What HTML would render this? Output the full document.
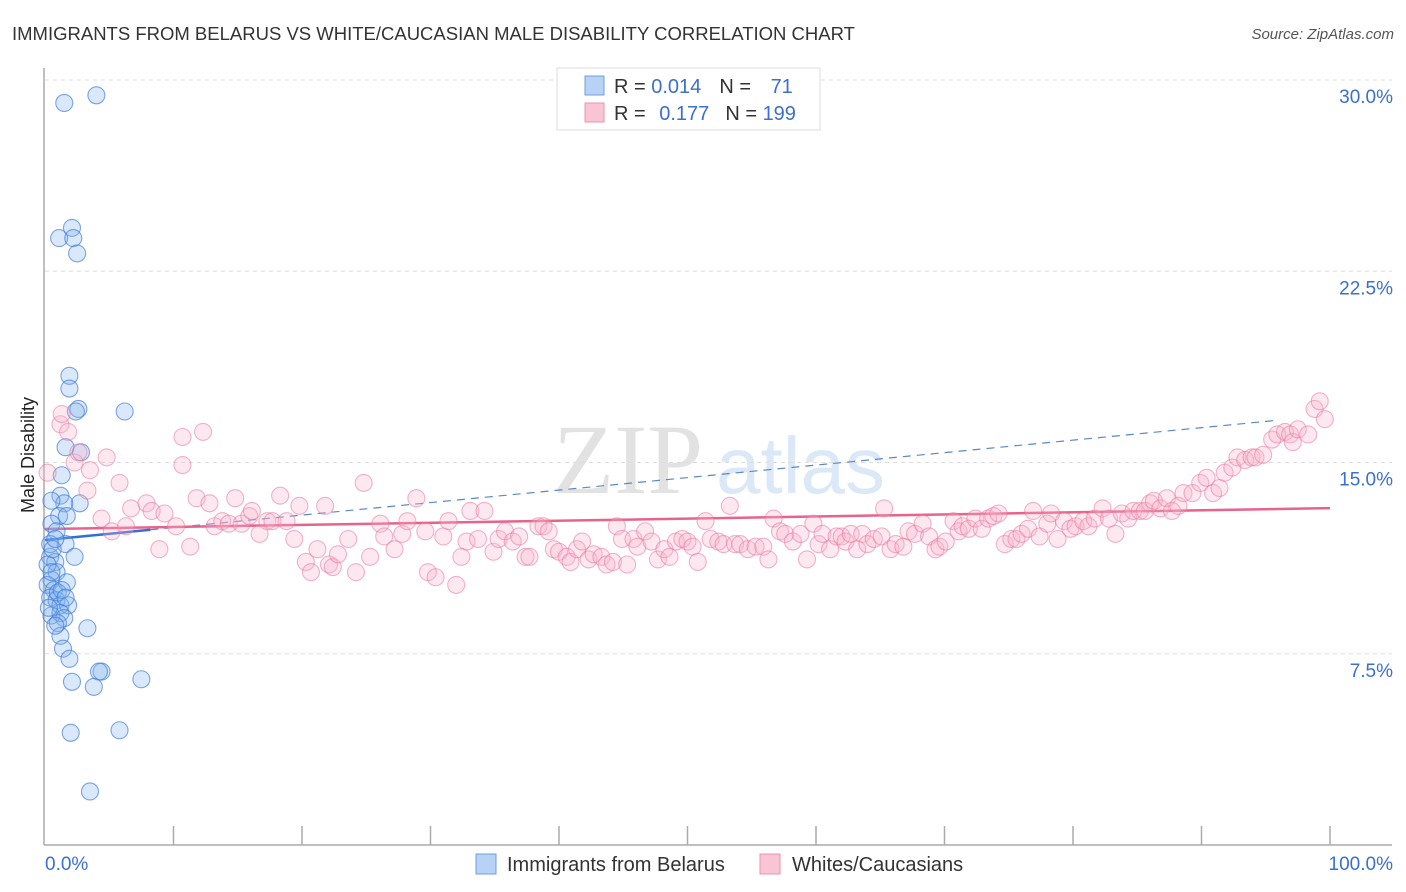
<!DOCTYPE html>
<html><head><meta charset="utf-8"><style>
body{margin:0;background:#fff;font-family:"Liberation Sans",sans-serif;}
svg{display:block}
</style></head><body>
<svg id="chart" width="1406" height="892">
<text x="12" y="40" font-size="18.5" fill="#333">IMMIGRANTS FROM BELARUS VS WHITE/CAUCASIAN MALE DISABILITY CORRELATION CHART</text>
<text x="1394" y="39" font-size="15" fill="#555" font-style="italic" text-anchor="end">Source: ZipAtlas.com</text>
<g>
<text x="553" y="493" font-family="Liberation Serif,serif" font-size="100" fill="#e2e2e2">ZIP</text>
<text x="716" y="493" font-size="80" fill="#dbe8f7">atlas</text>
</g>
<g id="grid"></g>
<g id="axes"></g>
<g id="trends"></g>
<g id="points"></g>
<text transform="translate(34,455) rotate(-90)" font-size="18" fill="#222" text-anchor="middle">Male Disability</text>
<g>
<rect x="557" y="68" width="263" height="62" fill="#fff" stroke="#ddd"/>
<rect x="585" y="76" width="19" height="19" fill="#b7d2f5" stroke="#6f9de0"/>
<rect x="585" y="103" width="19" height="19" fill="#f9c4d3" stroke="#ec93ad"/>
<text x="614" y="93" font-size="20" fill="#333">R = <tspan fill="#3b6fd0">0.014</tspan><tspan dx="18">N = </tspan><tspan dx="14" fill="#3b6fd0">71</tspan></text>
<text x="614" y="120" font-size="20" fill="#333">R = <tspan dx="8" fill="#3b6fd0">0.177</tspan><tspan dx="16">N = </tspan><tspan fill="#3b6fd0">199</tspan></text>
</g>
<g>
<rect x="476" y="854" width="20" height="20" fill="#b7d2f5" stroke="#6f9de0"/>
<text x="507" y="871" font-size="20" fill="#333">Immigrants from Belarus</text>
<rect x="760" y="854" width="20" height="20" fill="#f9c4d3" stroke="#ec93ad"/>
<text x="792" y="871" font-size="20" fill="#333">Whites/Caucasians</text>
</g>
</svg>
<script>
const yTicks=[7.5,15,22.5,30];
const yTickLabels=["7.5%","15.0%","22.5%","30.0%"];
const xTicks=[0,10,20,30,40,50,60,70,80,90,100];
const blueX=[1.5,4.0,1.1,2.1,2.2,2.5,1.9,1.9,2.6,2.4,6.2,1.6,2.8,1.3,1.2,2.7,1.5,0.5,1.1,1.7,0.5,0.9,1.6,2.3,0.4,0.8,0.9,0.5,0.2,0.7,1.7,0.4,0.9,1.2,1.8,0.5,1.2,1.5,1.0,3.3,1.2,1.4,1.9,4.4,4.2,3.8,2.1,7.5,2.0,5.8,3.5,0.2,0.5,1.0,0.3,0.8,0.4,0.6,1.3,1.6,0.8];
const blueY=[29.1,29.4,23.8,24.2,23.8,23.2,18.4,17.9,17.1,17.0,17.0,15.6,15.4,14.5,13.7,13.4,13.4,13.5,12.9,12.9,12.6,12.3,11.8,11.3,11.3,11.1,10.7,10.4,10.2,10.0,10.3,9.7,9.6,9.4,9.4,9.0,9.1,8.9,8.7,8.5,8.2,7.7,7.3,6.8,6.8,6.2,6.4,6.5,4.4,4.5,2.1,11.0,10.7,9.9,9.3,8.6,11.8,11.6,10.0,9.7,12.0];
const pinkX=[0.2,1.2,1.3,1.8,2.3,2.6,3.3,3.5,4.4,4.8,5.2,5.8,6.3,6.7,7.9,8.3,8.9,9.3,10.2,10.7,11.3,10.7,12.3,11.8,12.8,13.2,13.8,14.3,14.8,15.3,15.9,16.1,16.7,17.3,17.7,18.3,18.8,19.4,19.8,20.3,20.7,21.2,21.8,22.1,22.4,22.8,23.6,24.2,24.8,25.3,26.1,26.4,27.2,27.8,28.2,28.9,29.6,29.8,30.4,31.0,31.4,32.0,32.4,32.8,33.1,33.7,34.2,34.9,35.3,35.8,36.4,36.9,37.4,37.7,38.4,38.8,39.2,39.6,40.0,40.6,40.9,41.4,41.8,42.3,42.7,43.3,43.7,44.2,44.5,44.9,45.3,45.8,46.1,46.7,47.2,47.7,48.2,48.6,49.1,49.6,50.0,50.4,50.8,51.4,51.8,52.4,52.8,53.3,53.7,54.1,54.7,55.3,55.9,56.3,56.7,57.2,57.6,58.2,58.8,59.3,59.8,60.2,60.5,61.1,61.6,62.0,62.3,62.7,63.2,63.6,64.0,64.5,65.1,65.3,65.8,66.2,66.8,67.2,67.7,68.3,68.8,69.3,69.6,70.1,70.7,71.1,71.4,71.9,72.4,72.9,73.4,73.8,74.2,74.7,75.2,75.6,76.0,76.5,76.9,77.4,78.0,78.3,78.8,79.3,79.8,80.2,80.8,81.2,81.7,82.3,82.8,83.3,83.8,84.3,84.7,85.2,85.6,86.0,86.3,86.8,87.3,87.7,88.2,88.6,89.3,89.9,90.4,90.9,91.4,91.8,92.4,92.8,93.4,93.9,94.2,94.8,95.5,95.9,96.5,96.9,97.1,97.5,98.3,98.8,99.2,99.6];
const pinkY=[14.6,16.5,16.9,16.2,15.0,15.4,13.9,14.7,12.8,15.2,12.3,14.2,12.5,13.2,13.4,13.1,11.6,13.0,12.5,14.9,11.7,16.0,16.2,13.6,13.4,12.5,12.7,12.6,13.6,12.6,12.9,13.1,12.2,12.7,12.7,13.7,12.7,12.0,13.3,11.1,10.7,11.6,13.3,11.0,10.9,11.4,12.0,10.7,14.2,11.3,12.6,12.1,11.6,12.2,12.7,13.6,12.3,10.7,10.5,12.1,12.7,10.2,11.3,11.9,13.1,12.0,13.1,11.5,12.0,12.3,11.9,12.1,11.3,11.3,12.5,12.5,12.3,11.6,11.5,11.3,11.1,11.6,11.9,11.2,11.4,11.3,11.0,11.1,12.5,12.0,11.0,12.0,11.7,12.3,11.9,11.2,11.6,11.3,11.9,12.0,11.9,11.7,11.1,12.7,12.0,11.9,11.8,13.3,11.8,11.8,11.6,11.7,11.7,11.2,12.8,12.3,12.2,11.9,12.2,11.2,12.6,11.8,12.2,11.6,12.1,12.1,11.9,12.2,11.6,12.2,11.8,12.0,12.1,13.2,11.6,11.8,11.7,12.3,12.2,12.6,12.1,11.6,11.7,11.9,12.7,12.3,12.5,12.4,12.8,12.4,12.8,12.9,13.0,11.8,12.0,12.0,12.2,12.4,13.1,12.1,12.6,13.0,12.0,12.7,12.4,12.5,12.7,12.5,12.8,13.2,12.8,12.2,13.0,12.8,13.1,13.1,13.1,13.4,13.5,13.2,13.6,13.1,13.3,13.8,13.8,14.2,14.4,13.8,14.0,14.6,14.8,15.2,15.1,15.2,15.2,15.3,15.9,16.1,16.2,16.1,15.8,16.3,16.1,17.1,17.4,16.7];
const pinkTrend=[12.39,13.21];
const blueTrend=[11.96,16.66];
const blueTrendSolidEnd=8.2, blueTrendDashEnd=96;

const X0=45,X1=1330,YB=845,YT=80;
const xs=v=>X0+(X1-X0)*v/100;
const ys=v=>YB-(YB-YT)*v/30;
const NS="http://www.w3.org/2000/svg";
function mk(tag,attrs,parent){const e=document.createElementNS(NS,tag);for(const k in attrs)e.setAttribute(k,attrs[k]);document.getElementById(parent).appendChild(e);return e;}

yTicks.forEach((t,i)=>{
  const g=mk('line',{x1:X0,x2:1392,y1:ys(t),y2:ys(t),stroke:'#ddd','stroke-dasharray':'4,4'},'grid');
  
  
  const tx=mk('text',{x:1393,y:ys(t)+23,'font-size':19,fill:'#3b6fd0','text-anchor':'end'},'axes');
  tx.textContent=yTickLabels[i];
  
  
});
let ax=mk('line',{x1:X0-1,x2:X0-1,y1:68,y2:YB,stroke:'#aaa','stroke-width':1.5},'axes');


ax=mk('line',{x1:X0-1,x2:1392,y1:YB,y2:YB,stroke:'#aaa','stroke-width':1.5},'axes');


xTicks.forEach(t=>{
  if(t===0)return;
  const l=mk('line',{x1:xs(t),x2:xs(t),y1:826,y2:YB,stroke:'#aaa','stroke-width':1.5},'axes');
  
  
});
let xl=mk('text',{x:45,y:870,'font-size':19,fill:'#3b6fd0'},'axes');xl.textContent='0.0%';


xl=mk('text',{x:1393,y:870,'font-size':19,fill:'#3b6fd0','text-anchor':'end'},'axes');xl.textContent='100.0%';



blueX.forEach((x,i)=>{
  const c=mk('circle',{cx:xs(x),cy:ys(blueY[i]),r:8.5,fill:'rgba(130,178,238,0.3)',stroke:'rgba(60,120,215,0.65)','stroke-width':1.1},'points');
  
  
});
pinkX.forEach((x,i)=>{
  const c=mk('circle',{cx:xs(x),cy:ys(pinkY[i]),r:8.5,fill:'rgba(247,178,201,0.3)',stroke:'rgba(232,120,155,0.55)','stroke-width':1.1},'points');
  
  
});
const bAt=x=>blueTrend[0]+(blueTrend[1]-blueTrend[0])*x/blueTrendDashEnd;
let t=mk('line',{x1:xs(blueTrendSolidEnd),y1:ys(bAt(blueTrendSolidEnd)),x2:xs(blueTrendDashEnd),y2:ys(bAt(blueTrendDashEnd)),stroke:'#5b87cc','stroke-width':1.2,'stroke-dasharray':'8,6'},'trends');


t=mk('line',{x1:xs(0),y1:ys(pinkTrend[0]),x2:xs(100),y2:ys(pinkTrend[1]),stroke:'#e8638c','stroke-width':2.5},'trends');


t=mk('line',{x1:xs(0),y1:ys(bAt(0)),x2:xs(blueTrendSolidEnd),y2:ys(bAt(blueTrendSolidEnd)),stroke:'#2f6fd6','stroke-width':2.5},'trends');


</script>
</body></html>
